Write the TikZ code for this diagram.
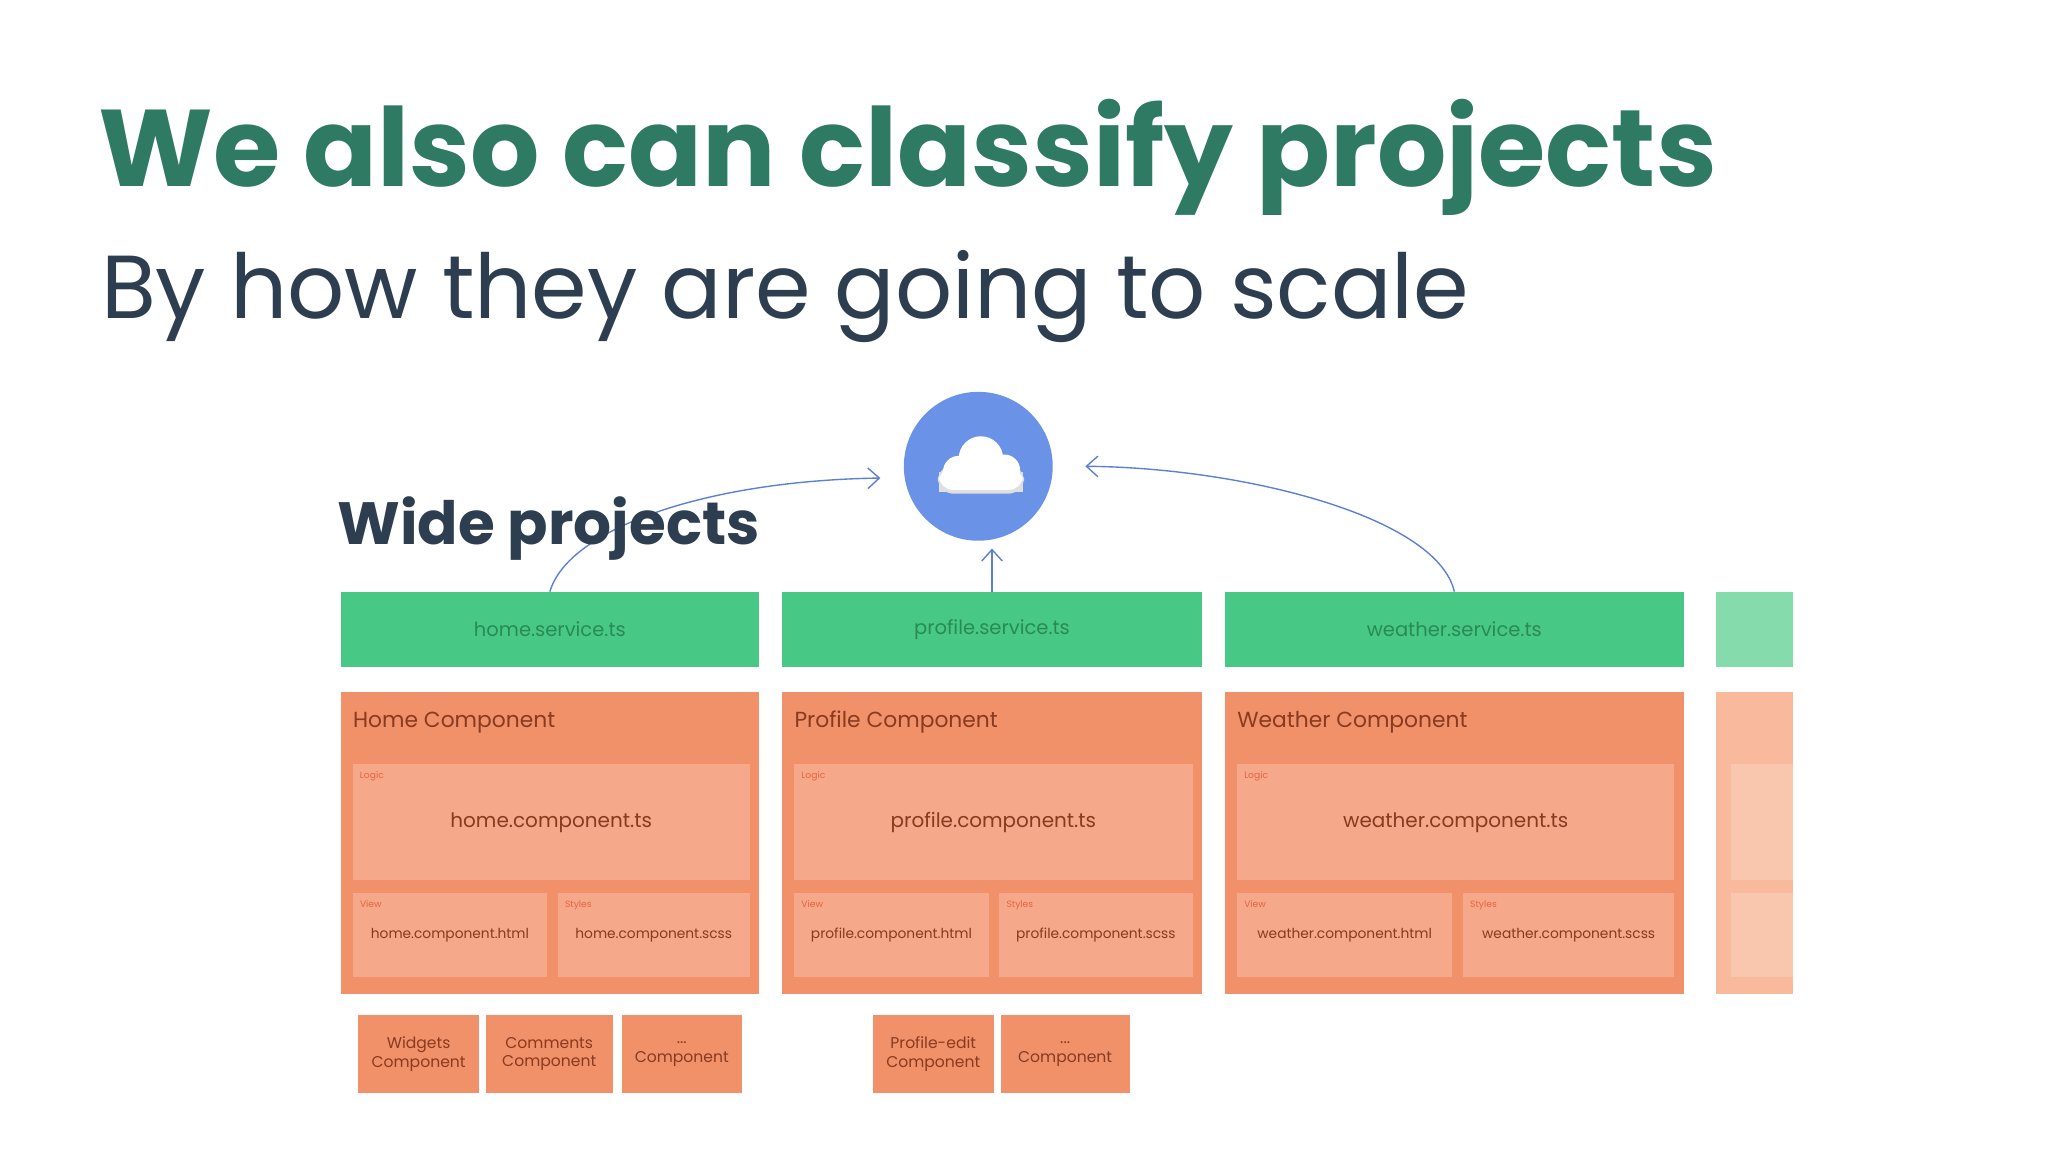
\documentclass[tikz,border=0pt]{standalone}
\usepackage{fontspec}
\setmainfont{Poppins}
\usetikzlibrary{arrows.meta}
\definecolor{titlegreen}{HTML}{2F7A62}
\definecolor{navy}{HTML}{2D3E50}
\definecolor{gbox}{HTML}{47C985}
\definecolor{gtext}{HTML}{2A8A55}
\definecolor{obox}{HTML}{F0916A}
\definecolor{oin}{HTML}{F5A88A}
\definecolor{otext}{HTML}{8A3A1E}
\definecolor{olab}{HTML}{E8643C}
\definecolor{fgreen}{HTML}{86DBAD}
\definecolor{fobox}{HTML}{F8B99C}
\definecolor{foin}{HTML}{F9C6AE}
\definecolor{cblue}{HTML}{6A93E8}
\definecolor{arr}{HTML}{5B7FD6}
\newcommand\bx[7]{\pgfmathsetmacro\bw{(#4-#2)*0.02}\pgfmathsetmacro\bh{(#5-#3)*0.02}%
\node[box,#6,minimum width=\bw cm,minimum height=\bh cm] (#1) at ({(#2+#4)/2},{(#3+#5)/2}) {#7};}
\newcommand\comp[6]{% name, x1, x2, xmidsplit, title, prefix
\bx{#1svc}{#2}{453}{#3}{511}{fill=gbox,text=gtext,font=\fontsize{8.5}{10}\selectfont}{#6.service.ts}
\bx{#1box}{#2}{530}{#3}{761}{fill=obox}{}
\node[anchor=west,text=otext,font=\fontsize{9.5}{11}\selectfont,inner sep=0] (#1ttl) at (#2+9,553) {#5};
\pgfmathsetmacro\lx{#2+9}\pgfmathsetmacro\rx{#3-7}\pgfmathsetmacro\sx{#4+8}
\bx{#1logic}{\lx}{585}{\rx}{674}{fill=oin,text=otext,font=\fontsize{8.7}{10}\selectfont}{#6.component.ts}
\bx{#1view}{\lx}{684}{#4}{748}{fill=oin,text=otext,font=\fontsize{6}{7}\selectfont}{#6.component.html}
\bx{#1sty}{\sx}{684}{\rx}{748}{fill=oin,text=otext,font=\fontsize{6}{7}\selectfont}{#6.component.scss}
\node[lab,anchor=north west] at (#1logic.north west) {Logic};
\node[lab,anchor=north west] at (#1view.north west) {View};
\node[lab,anchor=north west] at (#1sty.north west) {Styles};
}
\tikzset{box/.style={inner sep=0pt,outer sep=0pt,align=center},
lab/.style={text=olab,font=\fontsize{4}{5}\selectfont,inner sep=3pt},
small/.style={fill=obox,text=otext,font=\fontsize{6.8}{8}\selectfont},
con/.style={draw=arr,line width=0.6pt,-{Straight Barb[length=5pt,width=9pt]}}}
\begin{document}
\begin{tikzpicture}[x=0.02cm,y=-0.02cm]
\useasboundingbox (0,0) rectangle (1568,882);
\fill[white] (0,0) rectangle (1568,882);
\node[anchor=base west,inner sep=0,text=titlegreen,font=\fontsize{47.5}{52}\selectfont\bfseries] (title) at (75,143) {We also can classify projects};
\node[anchor=base west,inner sep=0,text=navy,font=\fontsize{39}{44}\selectfont] (sub) at (77,244) {By how they are going to scale};
% cloud
\node[circle,fill=cblue,minimum size=114*0.02cm,inner sep=0] (cloud) at (749,357) {};
\fill[gray!25] (719,361) rectangle (783,377);
\fill[gray!25,rounded corners=7pt] (718,356) rectangle (784,378);
\fill[white] (734,361) circle (12) (751,351) circle (17) (769,360) circle (12);
\fill[white,rounded corners=6pt] (719,358) rectangle (783,375);
\comp{home}{261}{581}{419}{Home Component}{home}
\comp{prof}{599}{920}{757}{Profile Component}{profile}
\comp{weat}{938}{1289}{1112}{Weather Component}{weather}
\bx{fsvc}{1314}{453}{1373}{511}{fill=fgreen}{}
\bx{fbox}{1314}{530}{1373}{761}{fill=fobox}{}
\bx{fl}{1325}{585}{1373}{674}{fill=foin}{}
\bx{fv}{1325}{684}{1373}{748}{fill=foin}{}
\bx{s1}{274}{777}{367}{837}{small}{Widgets\\Component}
\bx{s2}{372}{777}{469}{837}{small}{Comments\\Component}
\bx{s3}{476}{777}{568}{837}{small}{...\\Component}
\bx{s4}{668}{777}{761}{837}{small}{Profile-edit\\Component}
\bx{s5}{766}{777}{865}{837}{small}{...\\Component}
\coordinate (t1) at (674,366);
\coordinate (t3) at (831,357);
\draw[con] (homesvc.north) .. controls (435,405) and (540,368) .. (t1);
\draw[con] (profsvc.north) -- ++(0,-33);
\draw[con] (weatsvc.north) .. controls (1100,395) and (950,358) .. (t3);
\node[anchor=base west,inner sep=0,text=navy,font=\fontsize{26}{30}\selectfont\bfseries] (wide) at (258,417) {Wide projects};
\end{tikzpicture}
\end{document}
